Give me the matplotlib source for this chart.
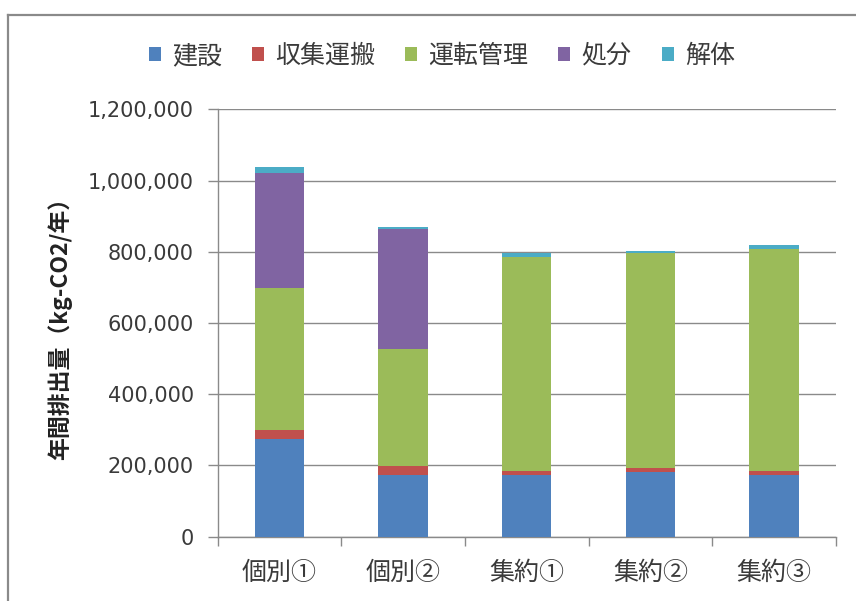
import matplotlib
matplotlib.use("Agg")
import matplotlib.pyplot as plt
from matplotlib.patches import Patch
from matplotlib.lines import Line2D
from matplotlib.ticker import FuncFormatter, FixedLocator
import numpy as np

plt.rcParams['font.family'] = ['Noto Sans CJK JP', 'DejaVu Sans']

# Annual CO2 emissions per scenario, by life-cycle stage (kg-CO2/year)
categories = ['個別①', '個別②', '集約①', '集約②', '集約③']
stages = ['建設', '収集運搬', '運転管理', '処分', '解体']
construction = [273000, 173000, 173000, 181000, 173000]
collection = [27000, 25000, 11000, 13000, 11000]
operation = [399000, 328000, 600000, 602000, 624000]
disposal = [323000, 338000, 0, 0, 0]
demolition = [17000, 5000, 13000, 7000, 11000]
y_ticks = [0, 200000, 400000, 600000, 800000, 1000000, 1200000]

series = [construction, collection, operation, disposal, demolition]
colors = ['#4F81BD', '#C0504D', '#9BBB59', '#8064A2', '#4BACC6']
text_color = '#3a3a3a'
grid_color = '#8a8a8a'

fig = plt.figure(figsize=(8.56, 6.01), dpi=100)
ax = fig.add_axes([0.2543, 0.1070, 0.7220, 0.7111])

x = np.arange(len(categories))
bottom = np.zeros(len(categories))
for vals, col in zip(series, colors):
    ax.bar(x, vals, width=0.4, bottom=bottom, color=col, linewidth=0, zorder=3)
    bottom += np.array(vals)

ax.set_xlim(-0.5, len(categories) - 0.5)
ax.set_ylim(0, 1200000)

# horizontal gridlines
ax.yaxis.set_major_locator(FixedLocator(y_ticks))
ax.yaxis.grid(True, color=grid_color, linewidth=1.0, zorder=0)
ax.set_axisbelow(True)
ax.yaxis.set_major_formatter(FuncFormatter(lambda v, p: f'{v:,.0f}'))
ax.tick_params(axis='y', direction='out', length=7, width=1.0, color=grid_color,
               pad=10, labelsize=15, labelcolor=text_color)
for lbl in ax.get_yticklabels():
    lbl.set_fontfamily('DejaVu Sans')

# category labels centred, tick marks on category boundaries
ax.set_xticks(x)
ax.set_xticklabels(categories, fontsize=18, color=text_color)
ax.tick_params(axis='x', which='major', length=0, pad=17)
ax.set_xticks(np.arange(-0.5, len(categories)), minor=True)
ax.tick_params(axis='x', which='minor', direction='out', length=6.5, width=1.0,
               color=grid_color)

for side in ['top', 'right']:
    ax.spines[side].set_visible(False)
for side in ['left', 'bottom']:
    ax.spines[side].set_color(grid_color)
    ax.spines[side].set_linewidth(1.0)

fig.text(60 / 856, 1 - 323 / 601, '年間排出量（kg-CO2/年）', rotation=90,
         ha='center', va='center', fontsize=16.5, fontweight='bold', color='#222222')

handles = [Patch(facecolor=c, edgecolor='none') for c in colors]
fig.legend(handles, stages, loc='center', bbox_to_anchor=(0.516, 0.907), ncol=5,
           frameon=False, fontsize=18, handlelength=0.48, handleheight=0.48,
           handletextpad=0.45, columnspacing=1.2, borderpad=0, borderaxespad=0,
           labelcolor=text_color)

# chart area border (top and left edges)
fig.add_artist(Line2D([8 / 856, 8 / 856], [0, 1 - 15 / 601], transform=fig.transFigure,
                      color=grid_color, linewidth=1.6))
fig.add_artist(Line2D([8 / 856, 1], [1 - 15 / 601, 1 - 15 / 601], transform=fig.transFigure,
                      color=grid_color, linewidth=1.6))

fig.savefig('out.png', dpi=100, facecolor='white')
